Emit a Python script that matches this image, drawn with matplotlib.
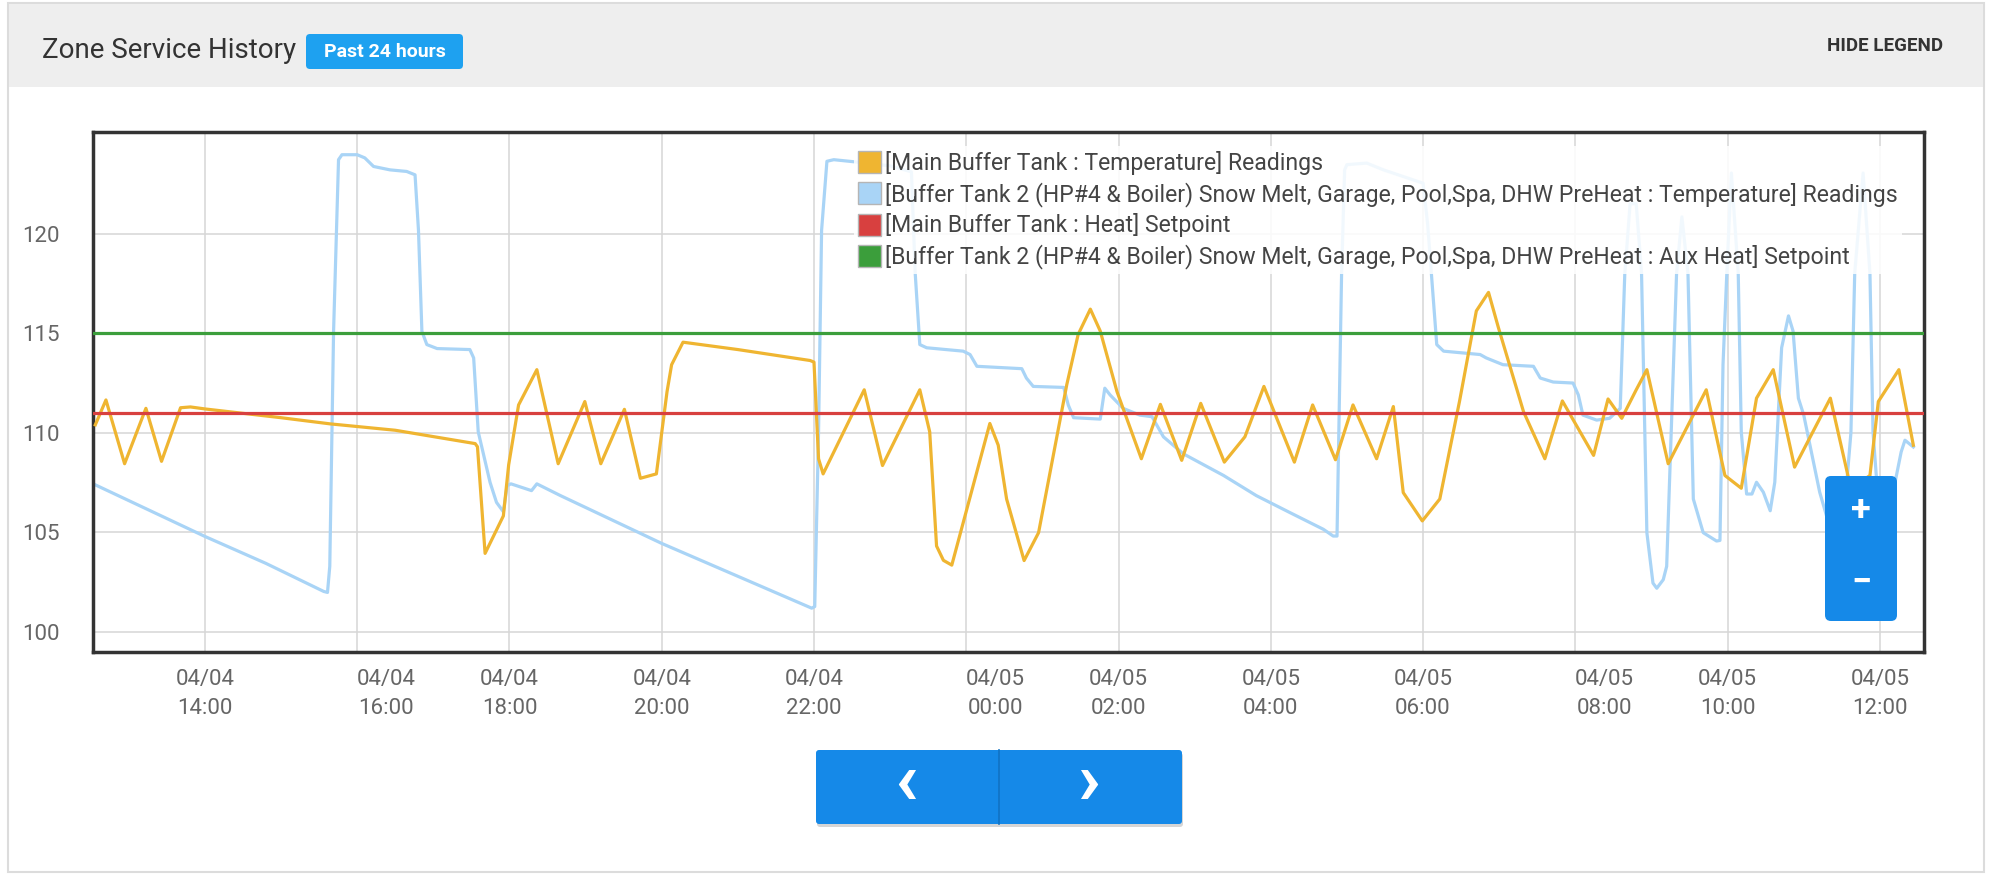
import matplotlib

matplotlib.use("Agg")
import matplotlib.pyplot as plt  # noqa: E402
import matplotlib.dates as mdates  # noqa: E402
import pandas as pd  # noqa: E402
from matplotlib.patches import FancyBboxPatch, Patch, Rectangle  # noqa: E402
from matplotlib.transforms import ScaledTranslation  # noqa: E402

plt.rcParams["font.family"] = ["Roboto", "DejaVu Sans"]

START = pd.Timestamp("2019-04-04")

# hours after 04/04 00:00, values in °F
main_hours = [
    12.56, 12.70, 12.945, 13.225, 13.43, 13.68, 13.81, 14.0, 15.0, 15.645,
    16.5, 17.55, 17.58, 17.68, 17.92, 17.99, 18.12, 18.36, 18.64, 18.99,
    19.20, 19.51, 19.72, 19.93, 20.07, 20.13, 20.28, 21.0, 21.95, 22.0,
    22.06, 22.12, 22.66, 22.90, 23.39, 23.52, 23.61, 23.70, 23.81, 24.31,
    24.42, 24.53, 24.76, 24.95, 25.32, 25.47, 25.63, 25.76, 25.98, 26.30,
    26.55, 26.83, 27.08, 27.39, 27.66, 27.91, 28.31, 28.55, 28.85, 29.08,
    29.39, 29.61, 29.74, 29.99, 30.22, 30.48, 30.70, 30.86, 30.99, 31.32,
    31.60, 31.83, 32.24, 32.43, 32.61, 32.80, 32.94, 33.22, 33.72, 33.965,
    34.18, 34.38, 34.60, 34.88, 35.35, 35.62, 35.87, 35.98, 36.25, 36.44,
]
main_temp = [
    110.4, 111.65, 108.45, 111.23, 108.57, 111.26, 111.3, 111.2, 110.76, 110.45,
    110.13, 109.46, 109.3, 103.95, 105.83, 108.4, 111.4, 113.17, 108.45, 111.57,
    108.45, 111.18, 107.72, 107.94, 112.07, 113.42, 114.55, 114.18, 113.63, 113.55,
    108.7, 107.94, 112.16, 108.36, 112.16, 110.05, 104.32, 103.6, 103.36, 110.47,
    109.38, 106.68, 103.59, 104.99, 112.41, 114.94, 116.21, 115.11, 112.07, 108.7,
    111.43, 108.62, 111.48, 108.53, 109.8, 112.33, 108.53, 111.4, 108.65, 111.4,
    108.7, 111.32, 107.0, 105.58, 106.68, 111.6, 116.12, 117.05, 115.28, 111.06,
    108.7, 111.6, 108.87, 111.7, 110.73, 112.16, 113.17, 108.45, 112.16, 107.86,
    107.22, 111.74, 113.17, 108.28, 111.74, 107.2, 107.86, 111.57, 113.17, 109.38,
]

tank2_hours = [
    12.56, 14.0, 14.8, 15.56, 15.61, 15.64, 15.69, 15.755, 15.80, 16.0,
    16.10, 16.215, 16.43, 16.65, 16.76, 16.805, 16.85, 16.915, 17.05, 17.48,
    17.53, 17.59, 17.745, 17.83, 17.92, 17.97, 18.02, 18.29, 18.36, 18.67,
    20.0, 21.97, 22.01, 22.06, 22.10, 22.17, 22.26, 22.54, 23.0, 23.28,
    23.33, 23.39, 23.48, 23.96, 24.05, 24.14, 24.73, 24.79, 24.88, 25.28,
    25.34, 25.41, 25.76, 25.82, 25.89, 26.06, 26.28, 26.44, 26.59, 26.85,
    27.38, 27.81, 28.25, 28.69, 28.82, 28.87, 28.91, 28.93, 28.97, 29.0,
    29.26, 29.48, 30.0, 30.06, 30.11, 30.18, 30.27, 30.75, 30.83, 31.05,
    31.45, 31.54, 31.71, 31.97, 32.04, 32.10, 32.28, 32.45, 32.59, 32.65,
    32.72, 32.80, 32.87, 32.94, 33.02, 33.07, 33.155, 33.20, 33.26, 33.33,
    33.40, 33.48, 33.55, 33.68, 33.855, 33.90, 33.94, 33.99, 34.05, 34.14,
    34.18, 34.25, 34.32, 34.38, 34.47, 34.56, 34.62, 34.71, 34.80, 34.86,
    34.93, 35.0, 35.21, 35.30, 35.50, 35.62, 35.67, 35.78, 35.87, 35.91,
    35.96, 36.20, 36.28, 36.33, 36.44,
]
tank2_temp = [
    107.39, 104.8, 103.45, 102.04, 101.99, 103.3, 115.1, 123.71, 123.96, 123.96,
    123.8, 123.37, 123.2, 123.12, 122.95, 120.17, 115.1, 114.43, 114.23, 114.18,
    113.76, 110.05, 107.52, 106.51, 106.04, 107.35, 107.44, 107.1, 107.44, 106.85,
    104.45, 101.2, 101.28, 110.05, 120.17, 123.63, 123.71, 123.6, 123.4, 123.1,
    117.98, 114.43, 114.27, 114.1, 113.93, 113.34, 113.22, 112.75, 112.33, 112.28,
    111.4, 110.76, 110.69, 112.24, 111.9, 111.23, 110.89, 110.81, 109.8, 108.95,
    107.86, 106.85, 106.0, 105.16, 104.82, 104.82, 113.42, 117.98, 123.2, 123.46,
    123.54, 123.2, 122.53, 120.5, 117.98, 114.43, 114.1, 113.93, 113.76, 113.42,
    113.34, 112.75, 112.55, 112.5, 111.9, 110.89, 110.64, 110.73, 111.23, 118.0,
    121.5, 121.5, 118.0, 104.99, 102.46, 102.2, 102.63, 103.3, 110.05, 118.0,
    120.84, 117.98, 106.68, 104.99, 104.57, 104.6, 113.42, 118.0, 123.04, 118.0,
    110.05, 106.93, 106.93, 107.52, 107.02, 106.09, 107.52, 114.27, 115.87, 115.11,
    111.74, 110.9, 107.02, 105.83, 104.5, 110.0, 118.0, 123.04, 118.0, 110.05,
    107.52, 107.52, 109.04, 109.63, 109.29,
]

heat_setpoint = 111
aux_heat_setpoint = 115

tick_hours = [14, 16, 18, 20, 22, 24, 26, 28, 30, 32, 34, 36]
shifted_tick_hours = [16, 24, 32]  # these labels sit off their gridline in the app
y_ticks = [100, 105, 110, 115, 120]
x_span_hours = (12.53, 36.58)
y_span = (99.0, 125.1)

labels = [
    "[Main Buffer Tank : Temperature] Readings",
    "[Buffer Tank 2 (HP#4 & Boiler) Snow Melt, Garage, Pool,Spa, DHW PreHeat : Temperature] Readings",
    "[Main Buffer Tank : Heat] Setpoint",
    "[Buffer Tank 2 (HP#4 & Boiler) Snow Melt, Garage, Pool,Spa, DHW PreHeat : Aux Heat] Setpoint",
]

ORANGE = "#efb531"
BLUE = "#a9d4f6"
RED = "#d8403f"
GREEN = "#3b9e3b"
BUTTON = "#1589e8"


def to_time(hours):
    return START + pd.to_timedelta(pd.Series(hours, dtype=float), unit="h")


W, H = 1993, 875
fig = plt.figure(figsize=(W / 100, H / 100), dpi=100)

# page card + header
bg = fig.add_axes([0, 0, 1, 1], zorder=0)
bg.set_xlim(0, W)
bg.set_ylim(H, 0)
bg.axis("off")
bg.add_patch(Rectangle((8, 3), 1976, 869, fc="white", ec="#dcdcdc", lw=1.5))
bg.add_patch(Rectangle((9, 4), 1974, 83, fc="#eeeeee", ec="none"))
bg.text(42, 51, "Zone Service History", fontsize=20, color="#333333", va="center")
bg.add_patch(FancyBboxPatch((306, 34), 157, 35, boxstyle="round,pad=0,rounding_size=4",
                            fc="#1ea1f0", ec="none"))
bg.text(384.5, 52, "Past 24 hours", fontsize=14, fontweight="bold", color="white",
        ha="center", va="center")
bg.text(1943, 46, "HIDE LEGEND", fontsize=13.5, fontweight="bold", color="#333333",
        ha="right", va="center")

# nav buttons
bg.add_patch(FancyBboxPatch((817, 753), 366, 74, boxstyle="round,pad=0,rounding_size=3",
                            fc="#888888", ec="none", alpha=0.35))
bg.add_patch(FancyBboxPatch((816, 750), 366, 74, boxstyle="round,pad=0,rounding_size=3",
                            fc=BUTTON, ec="none"))
bg.plot([999, 999], [750, 824], color="#1173c4", lw=1.2)
bg.text(906, 784, "‹", fontsize=54, fontweight="bold", color="white", ha="center", va="center")
bg.text(1088, 784, "›", fontsize=54, fontweight="bold", color="white", ha="center", va="center")

# chart
ax = fig.add_axes([93 / W, 1 - 652 / H, (1924 - 93) / W, (652 - 132) / H], zorder=1)
ax.set_facecolor("white")

ax.plot(to_time(main_hours), main_temp, color=ORANGE, lw=2.3, zorder=3)
ax.plot(to_time(tank2_hours), tank2_temp, color=BLUE, lw=2.3, zorder=2)
ax.axhline(heat_setpoint, color=RED, lw=2.3, zorder=4)
ax.axhline(aux_heat_setpoint, color=GREEN, lw=2.3, zorder=4)

ax.set_xlim(to_time(list(x_span_hours)))
ax.set_ylim(*y_span)
ax.set_yticks(y_ticks)
ax.set_xticks(to_time(tick_hours))
ax.xaxis.set_major_formatter(mdates.DateFormatter("%m/%d\n%H:%M"))
ax.grid(True, color="#d6d6d6", lw=1.1)
ax.set_axisbelow(True)
ax.tick_params(length=0, labelsize=16, labelcolor="#666666")
ax.tick_params(axis="y", pad=24)
ax.tick_params(axis="x", pad=12)
for lbl in ax.get_xticklabels():
    lbl.set_linespacing(1.55)
for spine in ax.spines.values():
    spine.set_color("#333333")
    spine.set_linewidth(2.5)

shift = ScaledTranslation(0.29, 0, fig.dpi_scale_trans)
for tick, h in zip(ax.xaxis.get_major_ticks(), tick_hours):
    if h in shifted_tick_hours:
        tick.label1.set_transform(tick.label1.get_transform() + shift)

handles = [Patch(fc=c, ec="#b5b5b5", lw=1) for c in (ORANGE, BLUE, RED, GREEN)]
leg = ax.legend(handles, labels, loc="upper left", bbox_to_anchor=(0.4155, 0.973),
                fontsize=16.6, labelcolor="#444444", frameon=True, fancybox=False,
                handlelength=1.0, handleheight=1.1, handletextpad=0.15,
                labelspacing=0.3, borderpad=0.2, borderaxespad=0)
leg.get_frame().set_facecolor("white")
leg.get_frame().set_alpha(0.85)
leg.get_frame().set_edgecolor("none")
leg.set_zorder(6)

# zoom control over the chart
fg = fig.add_axes([0, 0, 1, 1], zorder=2)
fg.set_xlim(0, W)
fg.set_ylim(H, 0)
fg.axis("off")
fg.add_patch(FancyBboxPatch((1825, 476), 72, 145, boxstyle="round,pad=0,rounding_size=6",
                            fc=BUTTON, ec="none"))
fg.text(1861, 511, "+", fontsize=26, fontweight="bold", color="white", ha="center", va="center")
fg.text(1861, 583, "−", fontsize=26, fontweight="bold", color="white", ha="center", va="center")

fig.savefig("out.png", dpi=100)
